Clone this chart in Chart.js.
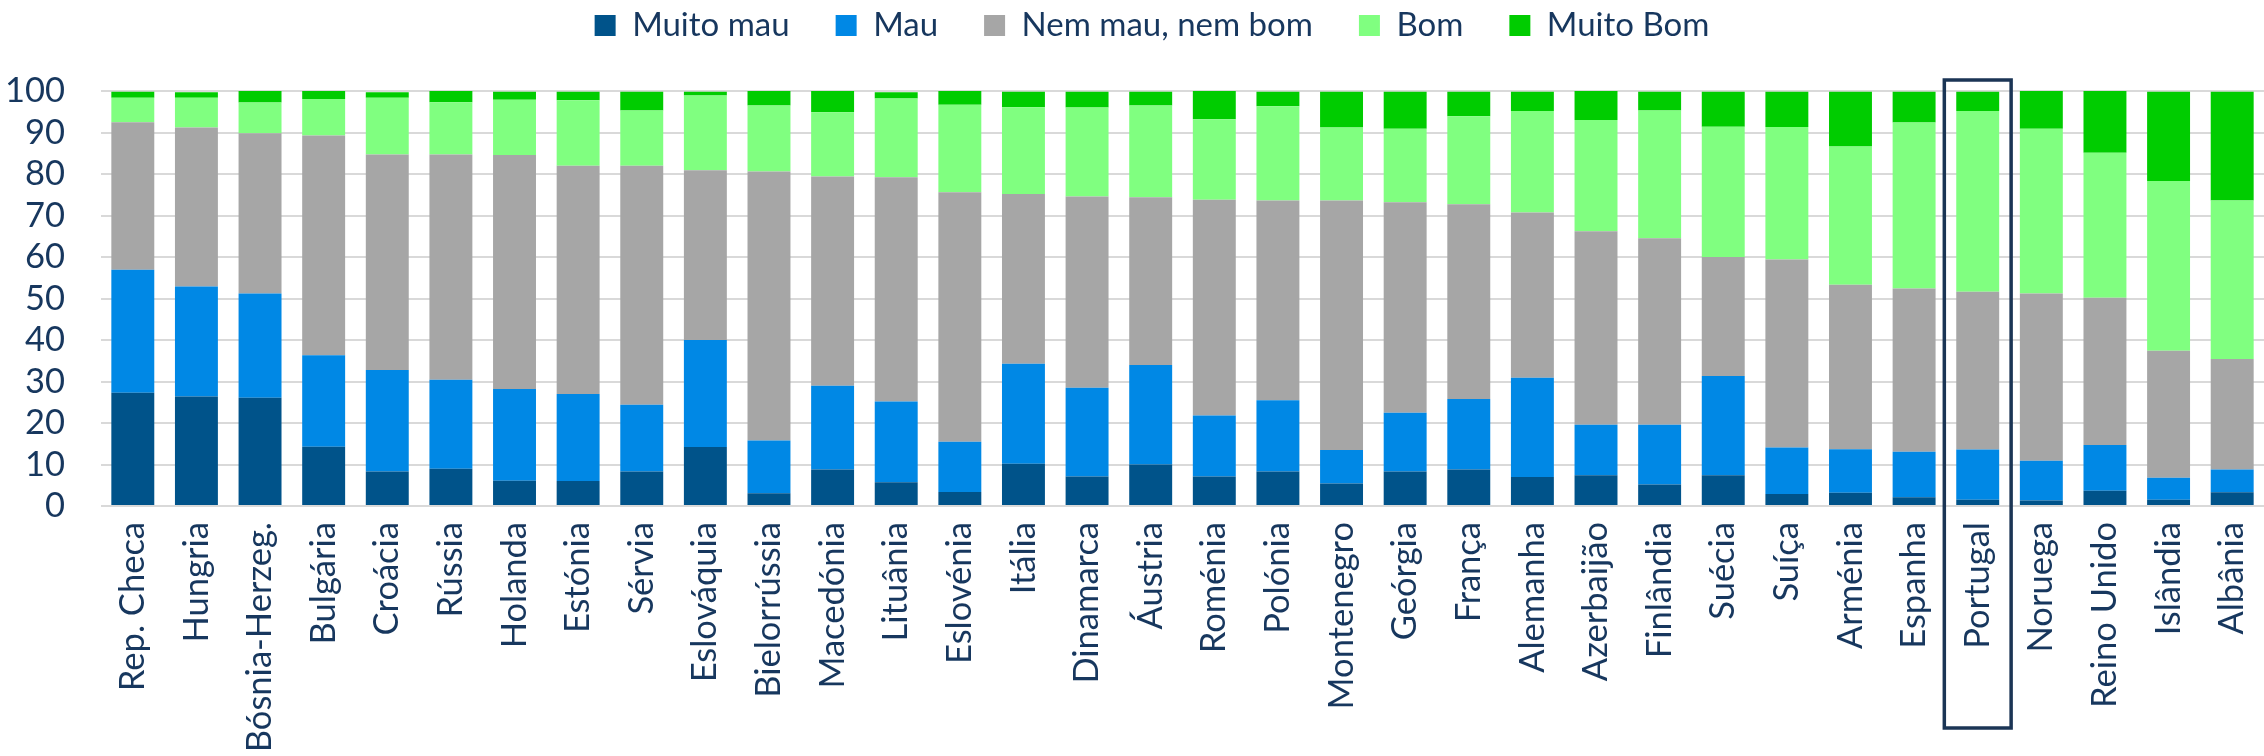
<!DOCTYPE html>
<html>
<head>
<meta charset="utf-8">
<script src="https://cdn.jsdelivr.net/npm/chart.js@4.4.1/dist/chart.umd.min.js"></script>
<style>
  html, body { margin: 0; padding: 0; background: #ffffff; }
  #wrap { width: 2264px; height: 756px; position: relative; }
</style>
</head>
<body>
<div id="wrap"><canvas id="c" width="2264" height="756"></canvas></div>
<script>
// ---- DATA ----
const categories = ["Rep. Checa","Hungria","Bósnia-Herzeg.","Bulgária","Croácia","Rússia","Holanda","Estónia","Sérvia","Eslováquia","Bielorrússia","Macedónia","Lituânia","Eslovénia","Itália","Dinamarca","Áustria","Roménia","Polónia","Montenegro","Geórgia","França","Alemanha","Azerbaijão","Finlândia","Suécia","Suíça","Arménia","Espanha","Portugal","Noruega","Reino Unido","Islândia","Albânia"];
const muitoMau = [27.3,26.4,26.1,14.3,8.3,9.0,6.1,6.0,8.3,14.2,3.1,8.8,5.7,3.4,10.2,7.1,10.0,7.1,8.3,5.4,8.3,8.8,7.0,7.4,5.2,7.4,2.9,3.2,2.1,1.5,1.3,3.7,1.5,3.3];
const mau = [29.6,26.5,25.1,22.0,24.5,21.4,22.1,21.0,16.1,25.8,12.7,20.2,19.5,12.1,24.1,21.4,24.0,14.7,17.2,8.1,14.2,17.0,23.9,12.2,14.4,23.9,11.2,10.5,11.0,12.1,9.6,11.0,5.3,5.5];
const nemMauNemBom = [35.6,38.3,38.6,53.0,51.9,54.3,56.4,55.0,57.6,40.9,64.8,50.4,54.0,60.1,40.9,46.1,40.4,52.0,48.1,60.1,50.7,46.9,39.8,46.6,44.9,28.7,45.3,39.6,39.3,38.0,40.3,35.5,30.6,26.6];
const bom = [5.9,7.2,7.4,8.8,13.7,12.6,13.3,15.8,13.3,18.0,15.9,15.5,19.0,21.1,20.9,21.4,22.1,19.4,22.7,17.6,17.7,21.2,24.5,26.8,30.8,31.4,31.9,33.3,40.0,43.6,39.7,34.9,40.9,38.2];
const muitoBom = [1.4,1.3,2.8,1.9,1.3,2.7,1.9,2.0,4.5,0.9,3.5,5.1,1.5,3.3,3.7,3.8,3.3,6.8,3.5,8.6,8.9,5.9,4.6,7.0,4.5,8.4,8.5,13.2,7.4,4.6,9.1,14.9,21.5,26.2];
const seriesNames = ["Muito mau","Mau","Nem mau, nem bom","Bom","Muito Bom"];
const yTicks = [0,10,20,30,40,50,60,70,80,90,100];
const highlighted = "Portugal";

// ---- STYLE ----
const TEXT = '#17375E';
const FONT = 'Lato, "Open Sans", sans-serif';
const FS = 34.5;
const LEGEND_FS = 33;
const colors = ['#00538A','#0088E5','#A6A6A6','#80FF80','#00CC00'];
Chart.defaults.font.family = FONT;
Chart.defaults.color = TEXT;

const seriesData = [muitoMau, mau, nemMauNemBom, bom, muitoBom];

const legendShift = {
  id: 'legendShift',
  afterLayout(chart, args, opts) {
    const lg = chart.legend;
    if (lg) {
      lg.top = opts.itemTop - lg.options.labels.padding;
      lg.left += opts.dx;
      lg.right += opts.dx;
    }
  }
};

const highlightBox = {
  id: 'highlightBox',
  afterDraw(chart, args, opts) {
    const xs = chart.scales.x, ys = chart.scales.y;
    const i = categories.indexOf(opts.category);
    if (i < 0) return;
    const step = xs.getPixelForValue(1) - xs.getPixelForValue(0);
    const cx = xs.getPixelForValue(i);
    const half = step * 0.525;
    const top = ys.getPixelForValue(100) - 11;
    const bottom = xs.bottom - 28;
    const ctx = chart.ctx;
    ctx.save();
    ctx.strokeStyle = opts.color;
    ctx.lineWidth = opts.width;
    ctx.strokeRect(cx - half, top, half * 2, bottom - top);
    ctx.restore();
  }
};

new Chart(document.getElementById('c'), {
  type: 'bar',
  data: {
    labels: categories,
    datasets: seriesData.map((d, k) => ({
      label: seriesNames[k],
      data: d,
      backgroundColor: colors[k],
      borderWidth: 0,
      barPercentage: 0.675,
      categoryPercentage: 1.0
    }))
  },
  options: {
    responsive: false,
    animation: false,
    devicePixelRatio: 1,
    layout: { padding: { top: 2, left: 0, right: -4, bottom: 0 } },
    plugins: {
      tooltip: { enabled: false },
      legend: {
        display: true,
        position: 'top',
        align: 'center',
        labels: {
          boxWidth: 21,
          boxHeight: 21,
          padding: 46,
          color: TEXT,
          font: { size: LEGEND_FS, family: FONT }
        }
      },
      legendShift: { itemTop: 9, dx: 18 },
      highlightBox: { category: highlighted, color: '#1B3555', width: 3.5 }
    },
    scales: {
      x: {
        stacked: true,
        offset: true,
        grid: { display: false, drawTicks: false },
        border: { display: false },
        ticks: {
          autoSkip: false,
          minRotation: 90,
          maxRotation: 90,
          padding: 16,
          color: TEXT,
          font: { size: FS, family: FONT }
        },
        afterFit(scale) { scale.height = 250; scale.paddingLeft = 0; scale.paddingRight = 0; }
      },
      y: {
        stacked: true,
        min: 0,
        max: 100,
        afterBuildTicks(scale) { scale.ticks = yTicks.map(v => ({ value: v })); },
        grid: { color: '#D9D9D9', lineWidth: 2, drawTicks: false },
        border: { display: false },
        ticks: {
          autoSkip: false,
          padding: 36,
          color: TEXT,
          font: { size: FS, family: FONT }
        },
        afterFit(scale) { scale.width = 101; }
      }
    }
  },
  plugins: [legendShift, highlightBox]
});
</script>
</body>
</html>
